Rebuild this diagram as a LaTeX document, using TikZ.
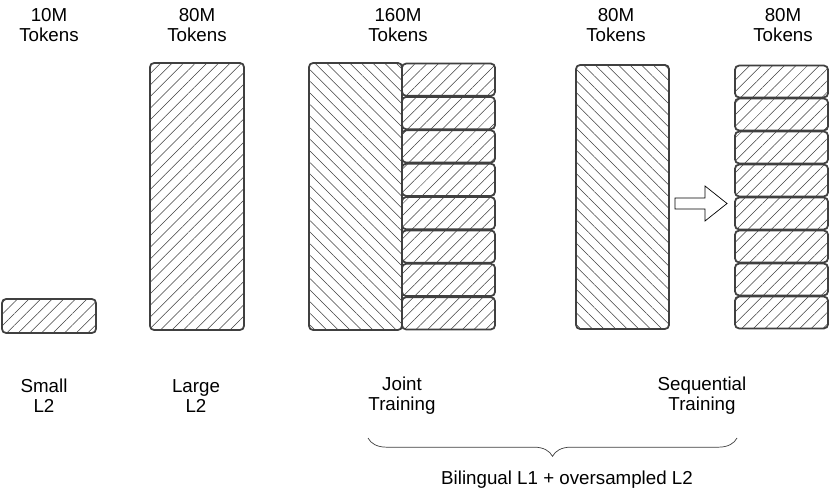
\documentclass[tikz,border=0pt]{standalone}
\usepackage{fontspec}
\setmainfont{Liberation Sans}
\usetikzlibrary{patterns.meta}
\usetikzlibrary{decorations.pathreplacing}
\definecolor{edgeColor}{RGB}{64,64,64}
\tikzstyle{canvas} = [x = .3mm, y = -.3mm, every node/.style={font=\fontsize{16}{17}\selectfont, align=center, inner sep=0pt}]
\tikzstyle{blockEdge} = [draw=edgeColor, line width=1.5pt, rounded corners = 1.2mm]
\tikzstyle{lOneStyle} = [blockEdge, pattern={Lines[angle=-45, distance=7pt, line width=.45pt]}, pattern color=edgeColor]
\tikzstyle{lTwoStyle} = [blockEdge, pattern={Lines[angle=45, distance=7pt, line width=.45pt]}, pattern color=edgeColor]
\tikzstyle{shiftArrow} = [draw=black, fill=white, line width=.6pt]
\tikzstyle{braceLine} = [draw=edgeColor, line width=.6pt, decorate, decoration={brace, mirror, amplitude=5.5mm}]
\newcommand{\eps}{.6}
\newcommand{\lOneBlock}[4]{\draw [lOneStyle] (#1, #2) rectangle (#3, #4);}
\newcommand{\lTwoBlock}[4]{\draw [lTwoStyle] (#1, #2) rectangle (#3, #4);}
\newcommand{\lTwoStack}[4]{
  \foreach \chunk in {0,...,7} {
    \pgfmathsetmacro{\chunkTop}{#2 + \chunk * #4 + \eps}
    \pgfmathsetmacro{\chunkBottom}{#2 + (\chunk + 1) * #4 - \eps}
    \lTwoBlock{#1}{\chunkTop}{#3}{\chunkBottom}
  }
}

\begin{document}
\begin{tikzpicture}[canvas]
  \fill [white] (0, 0) rectangle (830, 502);
  \useasboundingbox (0, 0) rectangle (830, 502);

  % sizes
  \node (smallSize) at (49, 25) {10M\\Tokens};
  \node (largeSize) at (197, 25) {80M\\Tokens};
  \node (jointSize) at (398, 25) {160M\\Tokens};
  \node (seqSize) at (616, 25) {80M\\Tokens};
  \node (stackSize) at (783, 25) {80M\\Tokens};

  % blocks
  \lTwoBlock{2}{299}{96}{333}
  \lTwoBlock{150}{63}{244}{330}
  \lOneBlock{309}{63}{402}{330}
  \lTwoStack{402}{63}{495}{33.375}
  \lOneBlock{576}{65}{669}{329}
  \lTwoStack{735}{65}{828}{33}

  \draw [shiftArrow] (675, 198) -- (705, 198) -- (705, 186) -- (727, 203.5)
    -- (705, 221) -- (705, 209) -- (675, 209) -- cycle;

  % names
  \node (smallName) at (44, 396) {Small\\L2};
  \node (largeName) at (196, 396) {Large\\L2};
  \node (jointName) at (402, 396) {Joint\\Training};
  \node (seqName) at (702, 396) {Sequential\\Training};

  \coordinate (braceLeft) at (368, 438);
  \coordinate (braceRight) at (737, 438);
  \draw [braceLine] (braceLeft) -- (braceRight);
  \node (bilingualLabel) at (567, 480) {Bilingual L1 + oversampled L2};
\end{tikzpicture}
\end{document}
